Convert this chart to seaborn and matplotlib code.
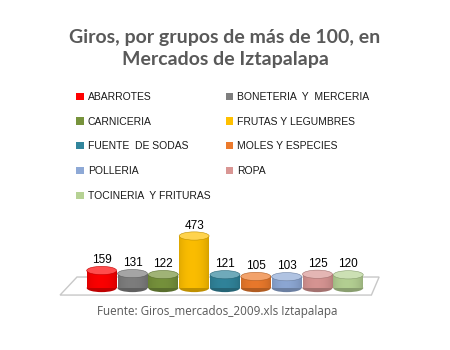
import matplotlib
matplotlib.use("Agg")
import matplotlib.pyplot as plt
import seaborn as sns
import pandas as pd
import numpy as np
from matplotlib.patches import Ellipse, Polygon, Patch
import matplotlib.colors as mcolors

categories = ["ABARROTES", "BONETERIA  Y  MERCERIA", "CARNICERIA", "FRUTAS Y LEGUMBRES",
              "FUENTE  DE SODAS", "MOLES Y ESPECIES", "POLLERIA", "ROPA",
              "TOCINERIA  Y FRITURAS"]
values = [159, 131, 122, 473, 121, 105, 103, 125, 120]
colors = ["#FF0000", "#7F7F7F", "#77933C", "#FFC000", "#31859C", "#EC7A2C",
          "#8EA9D6", "#D99694", "#B6D294"]
title = "Giros, por grupos de más de 100, en\nMercados de Iztapalapa"
source = "Fuente: Giros_mercados_2009.xls Iztapalapa"

sns.set_theme(style="white")
plt.rcParams['font.family'] = ['Liberation Sans', 'DejaVu Sans']

W, H = 450, 350
fig = plt.figure(figsize=(4.5, 3.5), dpi=100)
fig.patch.set_facecolor("white")

ax_l, ax_r, ax_t, ax_b = 58.5, 382.2, 225, 300
ax = fig.add_axes([ax_l / W, 1 - ax_b / H, (ax_r - ax_l) / W, (ax_b - ax_t) / H])

df = pd.DataFrame({"cat": categories, "val": values})
sns.barplot(data=df, x="cat", y="val", hue="cat", palette=colors, legend=False,
            width=0.97, ax=ax, saturation=1, zorder=3)
bars = list(ax.patches)
ax.axis("off")

floor = Polygon([(-1.35, -64), (8.75, -64), (9.0, 100), (-0.8, 100)], closed=True,
                facecolor="white", edgecolor="#C8C8C8", lw=1.0, zorder=1)
ax.add_patch(floor)

ell_h = 75
xs = np.linspace(0, 1, 64)
shade = 0.55 + 0.45 * np.sin(np.pi * xs) ** 0.6 - 0.12 * xs
for bar, v, c in zip(bars, values, colors):
    x0 = bar.get_x(); w = bar.get_width(); xc = x0 + w / 2
    base = np.array(mcolors.to_rgb(c))
    dark = base * 0.75
    light = base + (1 - base) * 0.3
    ax.add_patch(Ellipse((xc, 0), w, ell_h, facecolor=dark, edgecolor="none", zorder=2.9))
    bar.set_facecolor(base)
    bar.set_edgecolor("none")
    row = np.empty((len(xs), 3))
    for k, s in enumerate(shade):
        if s >= 1:
            row[k] = base + (1 - base) * (s - 1) * 2
        else:
            row[k] = base * (0.7 + 0.3 * s)
    img = np.clip(row[None, :, :], 0, 1)
    im = ax.imshow(img, extent=(x0, x0 + w, 0, v), aspect="auto", zorder=3.1,
                   interpolation="bilinear")
    im.set_clip_path(bar)
    ax.add_patch(Ellipse((xc, v), w, ell_h, facecolor=light, edgecolor=dark, lw=0.4,
                         zorder=4))
    ax.text(xc, v + ell_h / 2 + 2, str(v), ha="center", va="bottom", fontsize=8.5,
            color="black", zorder=5)

ax.set_xlim(-1.4, 9.1)
ax.set_ylim(-109, 573)

fig.text(0.5, 1 - 48.5 / H, title, ha="center", va="center", fontsize=14,
         fontweight="bold", color="#595959", linespacing=1.32,
         family=["Lato", "DejaVu Sans"])

handles = [Patch(facecolor=c, edgecolor="none") for c in colors]
order = [0, 2, 4, 6, 8, 1, 3, 5, 7]
fig.legend([handles[i] for i in order], [categories[i] for i in order], ncol=2,
           loc="upper left", bbox_to_anchor=(67 / W, 1 - 82.5 / H), frameon=False,
           fontsize=7.5, handlelength=0.7, handleheight=0.7, handletextpad=0.4,
           labelspacing=1.42, columnspacing=1.45, labelcolor="#1a1a1a")

fig.text(217.5 / W, 1 - 311 / H, source, ha="center", va="center", fontsize=8.4,
         color="#595959", family=["Open Sans", "DejaVu Sans"])

fig.savefig("out.png", dpi=100, facecolor="white")
